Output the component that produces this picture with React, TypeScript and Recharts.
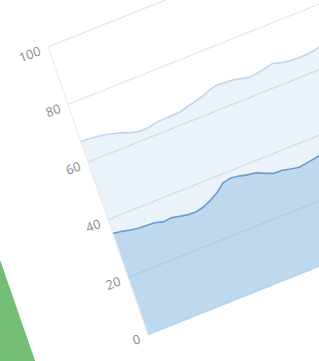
import { AreaChart, Area, XAxis, YAxis, CartesianGrid } from "recharts";

// values, one point every 8px along the (tilted) x axis
const upperSeries = [
  67.2, 67.0, 66.7, 66.3, 65.5, 64.7, 63.6, 63.1, 63.2, 63.8, 63.9, 64.0,
  64.1, 64.8, 65.5, 66.1, 67.1, 67.8, 67.6, 67.4, 66.8, 66.2, 66.5, 67.0,
  67.6, 66.8, 66.3, 66.2, 66.2, 66.4, 67.2, 67.5, 67.2, 67.8, 68.0, 67.6,
];
const lowerSeries = [
  35.3, 34.8, 34.2, 33.7, 33.6, 33.4, 32.6, 32.9, 32.3, 31.8, 31.7, 32.3,
  33.5, 35.0, 37.2, 37.8, 37.4, 36.7, 36.3, 35.0, 33.9, 33.9, 33.2, 32.7,
  33.1, 33.5, 34.0, 34.3, 34.8, 35.2, 35.0, 35.6, 36.0, 35.8, 36.3, 36.5,
];
const yTicks = [0, 20, 40, 60, 80, 100];

const data = upperSeries.map((v, i) => ({
  idx: i,
  upper: v,
  lower: lowerSeries[i],
}));

// the reference is a tilted photo of the chart, so the flat chart is
// put through an affine transform
const tilt = "matrix(1, -0.4, 0.347, 1, 14.6, 49)";

export default function App() {
  return (
    <div
      style={{
        position: "fixed",
        left: 0,
        top: 0,
        width: 319,
        height: 361,
        overflow: "hidden",
        background: "#fff",
      }}
    >
      <div
        style={{
          position: "absolute",
          left: 0,
          top: 0,
          width: 310,
          height: 314,
          transformOrigin: "0 0",
          transform: tilt,
        }}
      >
        <div
          style={{
            position: "absolute",
            left: -220,
            top: 150,
            width: 143,
            height: 320,
            background: "#74bd74",
          }}
        />
        <AreaChart
          width={310}
          height={314}
          data={data}
          margin={{ top: 10, right: 0, left: 0, bottom: 16 }}
        >
          <CartesianGrid vertical={false} stroke="#e4e4e4" />
          <XAxis dataKey="idx" hide />
          <YAxis
            width={30}
            domain={[0, 100]}
            ticks={yTicks}
            tickLine={false}
            axisLine={{ stroke: "#ececec" }}
            tick={{ fill: "#888", fontSize: 12, fontFamily: "Open Sans" }}
          />
          <Area
            type="linear"
            dataKey="upper"
            stroke="#c2d7ed"
            strokeWidth={1.5}
            fill="#5b9bd5"
            fillOpacity={0.13}
            isAnimationActive={false}
          />
          <Area
            type="linear"
            dataKey="lower"
            stroke="#6f9bcf"
            strokeWidth={1.5}
            fill="#5b9bd5"
            fillOpacity={0.3}
            isAnimationActive={false}
          />
        </AreaChart>
      </div>
    </div>
  );
}
